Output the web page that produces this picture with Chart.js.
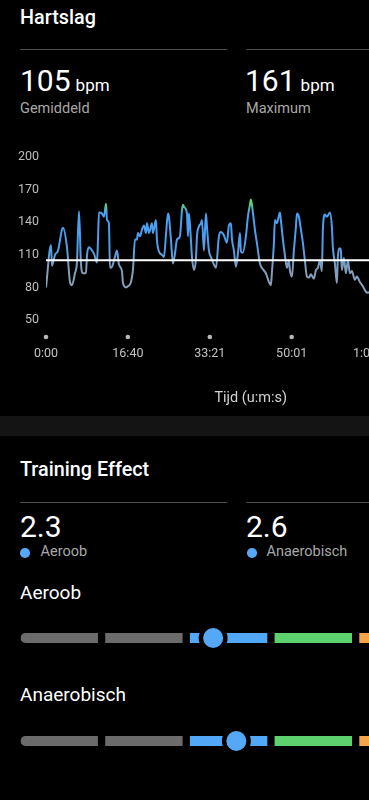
<!DOCTYPE html>
<html><head><meta charset="utf-8">
<script src="https://cdn.jsdelivr.net/npm/chart.js@4.4.1/dist/chart.umd.min.js"></script>
<style>
html,body{margin:0;padding:0;background:#000;width:369px;height:800px;overflow:hidden;font-family:Roboto,"Noto Sans",sans-serif;color:#fff;}
.abs{position:absolute;white-space:nowrap;line-height:1;}
.h{left:20px;font-size:19.8px;font-weight:500;}
.rule{position:absolute;height:1px;background:#4c4c4c;}
.big{font-size:30px;}
.unit{font-size:17px;margin-left:5px;}
.sub{font-size:14.5px;color:#a8a8a8;}
.h2{left:20px;font-size:19px;}
.dot{position:absolute;width:9.5px;height:9.5px;border-radius:50%;background:#55a8f5;}
.band{position:absolute;left:0;width:369px;top:416px;height:20px;background:#141414;}
canvas{position:absolute;left:0;display:block;}
</style>
</head><body>
<div class="abs h" style="top:7.5px">Hartslag</div>
<div class="rule" style="left:20px;width:207px;top:49px"></div>
<div class="rule" style="left:246px;width:130px;top:49px"></div>
<div class="abs big" style="left:20px;top:66px">105<span class="unit">bpm</span></div>
<div class="abs sub" style="left:20px;top:102px">Gemiddeld</div>
<div class="abs big" style="left:245px;top:66px">161<span class="unit">bpm</span></div>
<div class="abs sub" style="left:246px;top:102px">Maximum</div>

<canvas id="hr" width="470" height="270" style="top:142px;width:470px;height:270px"></canvas>

<div class="band"></div>

<div class="abs h" style="top:460px">Training Effect</div>
<div class="rule" style="left:20px;width:207px;top:502px"></div>
<div class="rule" style="left:246px;width:130px;top:502px"></div>
<div class="abs big" style="left:20px;top:511.5px">2.3</div>
<div class="dot" style="left:20.3px;top:548px"></div>
<div class="abs sub" style="left:40.5px;top:544.5px">Aeroob</div>
<div class="abs big" style="left:246px;top:511.5px">2.6</div>
<div class="dot" style="left:247px;top:548px"></div>
<div class="abs sub" style="left:266.5px;top:544.5px">Anaerobisch</div>

<div class="abs h2" style="top:582.5px">Aeroob</div>
<canvas id="te0" width="444" height="40" style="top:618px;width:444px;height:40px"></canvas>
<div class="abs h2" style="top:685px">Anaerobisch</div>
<canvas id="te1" width="444" height="40" style="top:721px;width:444px;height:40px"></canvas>

<script>
// ---- Heart rate data (time in seconds, bpm) ----
const hrTimes = [0,61,73,110,147,195,208,256,293,317,354,378,403,427,452,488,501,525,562,586,623,635,647,684,708,733,745,769,781,806,842,867,891,928,940,977,1001,1038,1062,1087,1111,1123,1148,1172,1197,1221,1233,1258,1294,1306,1343,1355,1380,1416,1441,1465,1490,1502,1526,1551,1575,1600,1636,1661,1673,1685,1722,1734,1746,1770,1783,1807,1832,1844,1868,1893,1905,1929,1954,1966,1990,2015,2051,2076,2112,2137,2173,2210,2234,2259,2271,2295,2320,2344,2369,2381,2405,2442,2466,2491,2503,2527,2552,2576,2613,2637,2686,2723,2747,2759,2784,2796,2821,2857,2869,2894,2918,2943,2967,2979,3004,3028,3053,3065,3089,3114,3138,3162,3187,3211,3236,3272,3297,3321,3346,3370,3382,3407,3431,3468,3492,3504,3529,3553,3565,3590,3602,3614,3639,3663,3688,3712,3736,3773,3797,3834,3871,3907,3932,3980];
const hrValues = [80,119,100,110,114,133,135,117,85,82,93,103,150,102,93,93,110,117,114,111,103,124,149,148,145,157,142,139,98,99,108,114,101,95,84,80,81,85,96,124,124,130,127,133,137,130,139,130,139,130,142,124,113,110,108,128,148,145,124,102,111,124,127,151,156,154,148,127,148,124,108,96,107,127,136,139,142,114,148,136,114,108,101,98,127,131,128,121,137,139,125,114,99,111,130,113,112,127,145,156,161,149,133,121,102,98,93,85,82,93,121,142,139,149,142,124,110,98,105,96,90,114,136,148,145,133,121,105,90,89,92,88,96,98,105,95,133,147,145,149,136,117,102,84,108,116,114,96,107,93,105,93,95,87,90,85,81,76,75,78];
const avgBpm = 105;
const maxBpm = 161;
const durationSec = 5002;
const yTickValues = [50,80,110,140,170,200];
const xTickValues = [0,1000,2001,3001,4002];
const xTickLabels = ['0:00','16:40','33:21','50:01','1:06:41'];
const xTitle = 'Tijd (u:m:s)';

// ---- Training effect data ----
const teLabels = ['Aeroob','Anaerobisch'];
const teValues = [2.3, 2.6];
const teZoneStarts = [0,1,2,3,4];

Chart.defaults.font.family = 'Roboto, "Noto Sans", sans-serif';
Chart.defaults.animation = false;

const gradStops = [[72,'#8fa3b5'],[98,'#7f9dbb'],[112,'#5a9edf'],[122,'#4a9ef0'],[148,'#4aa0f2'],[153,'#52bdb0'],[158,'#62d46a']];
function hrGradient(c){
  const chart = c.chart;
  if(!chart.chartArea) return '#4a9ef0';
  const ys = chart.scales.y;
  const lo = gradStops[0][0], hi = gradStops[gradStops.length-1][0];
  const g = chart.ctx.createLinearGradient(0, ys.getPixelForValue(lo), 0, ys.getPixelForValue(hi));
  gradStops.forEach(([v,col]) => g.addColorStop((v-lo)/(hi-lo), col));
  return g;
}

const tickDots = {
  id:'tickDots',
  afterDraw(chart){
    const xs = chart.scales.x, ctx = chart.ctx;
    ctx.save(); ctx.fillStyle = '#b8b8b8';
    xs.ticks.forEach((t,i) => {
      ctx.beginPath();
      ctx.arc(xs.getPixelForTick(i), chart.chartArea.bottom + 17, 2.3, 0, Math.PI*2);
      ctx.fill();
    });
    ctx.restore();
  }
};

new Chart(document.getElementById('hr'), {
  type:'line',
  data:{
    datasets:[
      { data:[{x:0,y:avgBpm},{x:durationSec,y:avgBpm}], borderColor:'#ffffff', borderWidth:2, pointRadius:0, order:0 },
      { data:hrTimes.map((t,i)=>({x:t,y:hrValues[i]})), borderColor:hrGradient, borderWidth:2, pointRadius:0, cubicInterpolationMode:'monotone', order:1 }
    ]
  },
  options:{
    responsive:false, devicePixelRatio:1,
    layout:{padding:{top:15,right:14.5,left:0,bottom:0}},
    plugins:{legend:{display:false},tooltip:{enabled:false}},
    scales:{
      x:{type:'linear',min:0,max:durationSec,
        grid:{display:false,drawTicks:false}, border:{display:false},
        afterBuildTicks(s){ s.ticks = xTickValues.map(v=>({value:v})); },
        afterFit(s){ s.height = 92; },
        ticks:{color:'#c2c2c2',font:{size:12.5},padding:26,maxRotation:0,autoSkip:false,callback:(v,i)=>xTickLabels[i]},
        title:{display:true,text:xTitle,color:'#d2d2d2',font:{size:14.5},padding:{top:0,bottom:5}}
      },
      y:{min:50,max:200,
        grid:{display:false,drawTicks:false}, border:{display:false},
        afterBuildTicks(s){ s.ticks = yTickValues.map(v=>({value:v})); },
        afterFit(s){ s.width = 46; },
        ticks:{color:'#bdbdbd',font:{size:12.5},padding:7}
      }
    }
  },
  plugins:[tickDots]
});

// Training effect bars
const zoneColors = ['#6b6b6b','#6b6b6b','#52a8f7','#5ed16f','#f7a44a'];
const segFrac = 0.914;
function teChart(id, label, value){
  const whole = Math.floor(value);
  const markerPos = whole + (value - whole) * segFrac;
  const bars = teZoneStarts.map((s,i)=>({
    type:'bar', data:[[s, s+segFrac]], backgroundColor:zoneColors[i], grouped:false,
    barPercentage:1, categoryPercentage:1, maxBarThickness:10, inflateAmount:0,
    borderSkipped:false, borderRadius: i===0 ? {topLeft:5,bottomLeft:5,topRight:0,bottomRight:0} : 0, order:1
  }));
  new Chart(document.getElementById(id), {
    type:'bar',
    data:{labels:[label], datasets:[
      {type:'scatter', data:[{x:markerPos,y:label}], pointRadius:12.25, pointHoverRadius:12.25, pointBackgroundColor:'#55a8f5', pointBorderColor:'#000', pointBorderWidth:4.5, order:0},
      ...bars
    ]},
    options:{
      indexAxis:'y', responsive:false, devicePixelRatio:1,
      layout:{autoPadding:false, padding:{left:20.5,right:0,top:0,bottom:0}},
      plugins:{legend:{display:false},tooltip:{enabled:false}},
      scales:{
        x:{type:'linear',min:0,max:5,display:false},
        y:{type:'category',display:false}
      }
    }
  });
}
teChart('te0', teLabels[0], teValues[0]);
teChart('te1', teLabels[1], teValues[1]);
</script>
</body></html>
